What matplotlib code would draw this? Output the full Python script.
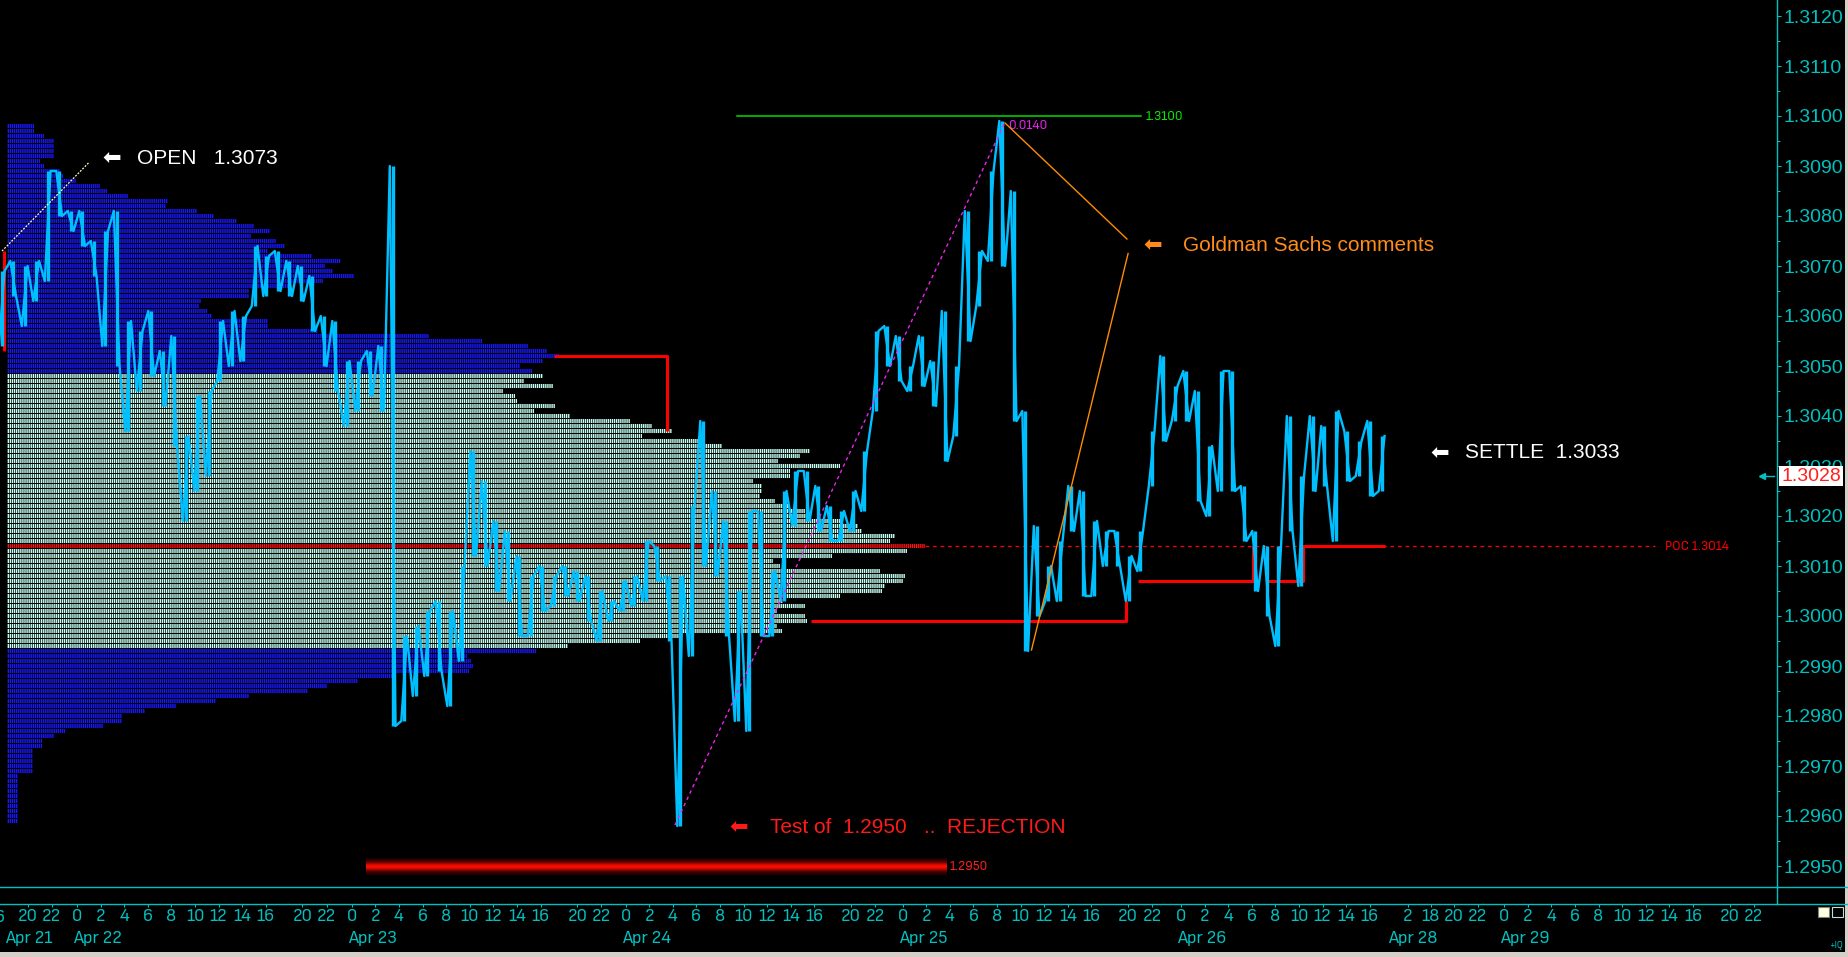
import numpy as np
import matplotlib
matplotlib.use("Agg")
import matplotlib.pyplot as plt
import matplotlib.transforms as mtransforms
from matplotlib import font_manager
from matplotlib.lines import Line2D
from matplotlib.patches import Rectangle
from matplotlib.ticker import FormatStrFormatter, MultipleLocator

W, H = 1848, 957

# fonts: Arial-like for labels, a narrow face for the time axis if one exists
names = {f.name for f in font_manager.fontManager.ttflist}
SANS = 'Liberation Sans' if 'Liberation Sans' in names else 'DejaVu Sans'
narrow_file = None
for f in font_manager.fontManager.ttflist:
    cond = ('Narrow' in f.name or 'Condensed' in f.name
            or f.stretch in ('condensed', 'semi-condensed', 'extra-condensed'))
    if cond and f.style == 'normal' and f.weight in (400, 'normal', 'regular', 'book'):
        if narrow_file is None or 'Sans' in f.name:
            narrow_file = f.fname
if narrow_file:
    def narrow(size):
        return font_manager.FontProperties(fname=narrow_file, size=size)
else:
    def narrow(size):
        return font_manager.FontProperties(family=SANS, size=size - 0.5)

CYAN = '#00c0c0'
PRICE = '#00bfff'

# ---- price data: hourly high / low, hours counted from Apr 22 00:00 ----
hours = np.arange(-7, 114)
highs = [1.3069, 1.3071, 1.3070, 1.3071, 1.3089, 1.3089, 1.3081, 1.3081, 1.3075, 1.3077,
         1.3081, 1.3059, 1.3057, 1.3061, 1.3053, 1.3056, 1.3036, 1.3044, 1.3045, 1.3059,
         1.3061, 1.3060, 1.3074, 1.3072, 1.3073, 1.3071, 1.3070, 1.3068, 1.3060, 1.3059,
         1.3051, 1.3051, 1.3053, 1.3054, 1.3090, 1.2996, 1.2998, 1.3001, 1.3003, 1.3001,
         1.3010, 1.3033, 1.3027, 1.3019, 1.3017, 1.3012, 1.3008, 1.3010, 1.3008, 1.3010,
         1.3009, 1.3008, 1.3005, 1.3003, 1.3007, 1.3008, 1.3015, 1.3014, 1.3008, 1.3008,
         1.3022, 1.3039, 1.3025, 1.3019, 1.3005, 1.3021, 1.3021, 1.3009, 1.3025, 1.3029,
         1.3029, 1.3026, 1.3022, 1.3021, 1.3025, 1.3033, 1.3057, 1.3058, 1.3056, 1.3050,
         1.3056, 1.3051, 1.3061, 1.3050, 1.3081, 1.3073, 1.3089, 1.3099, 1.3085, 1.3041,
         1.3018, 1.3010, 1.3015, 1.3026, 1.3025, 1.3019, 1.3017, 1.3017, 1.3012, 1.3017,
         1.3037, 1.3052, 1.3046, 1.3049, 1.3045, 1.3034, 1.3049, 1.3049, 1.3026, 1.3017,
         1.3014, 1.3014, 1.3040, 1.3028, 1.3040, 1.3038, 1.3041, 1.3037, 1.3035, 1.3039,
         1.3036]
lows = [1.3054, 1.3064, 1.3058, 1.3063, 1.3067, 1.3080, 1.3077, 1.3074, 1.3068, 1.3054,
        1.3050, 1.3037, 1.3045, 1.3048, 1.3042, 1.3034, 1.3019, 1.3025, 1.3028, 1.3047,
        1.3050, 1.3051, 1.3062, 1.3064, 1.3065, 1.3064, 1.3063, 1.3057, 1.3050, 1.3045,
        1.3038, 1.3041, 1.3044, 1.3041, 1.2978, 1.2979, 1.2984, 1.2988, 1.2989, 1.2982,
        1.2991, 1.3012, 1.3010, 1.3005, 1.3003, 1.2996, 1.2996, 1.3001, 1.3002, 1.3004,
        1.3003, 1.2999, 1.2995, 1.2999, 1.3001, 1.3002, 1.3003, 1.3007, 1.2995, 1.2958,
        1.2992, 1.3010, 1.3008, 1.2996, 1.2979, 1.2977, 1.2996, 1.2996, 1.3003, 1.3018,
        1.3019, 1.3017, 1.3015, 1.3015, 1.3017, 1.3021, 1.3041, 1.3050, 1.3047, 1.3045,
        1.3046, 1.3042, 1.3031, 1.3036, 1.3055, 1.3062, 1.3071, 1.3070, 1.3039, 1.2993,
        1.3000, 1.3003, 1.3003, 1.3017, 1.3004, 1.3004, 1.3010, 1.3010, 1.3003, 1.3009,
        1.3026, 1.3035, 1.3039, 1.3039, 1.3023, 1.3020, 1.3025, 1.3025, 1.3015, 1.3005,
        1.3000, 1.2994, 1.3017, 1.3006, 1.3025, 1.3026, 1.3015, 1.3027, 1.3028, 1.3024,
        1.3025]

# ---- volume profile, 1-pip bins from the top price down ----
profile_top = 1.3098
profile_volume = [27, 27, 37, 47, 47, 47, 47, 33, 37, 53, 56, 69, 93, 100, 121, 161, 159, 190,
                  207, 230, 247, 263, 244, 269, 278, 261, 305, 334, 318, 326, 347, 316, 284,
                  242, 242, 194, 192, 200, 205, 261, 261, 311, 422, 475, 521, 540, 552, 536,
                  513, 525,
                  536, 517, 546, 496, 508, 510, 548, 527, 563, 623, 645, 665, 635, 693, 715,
                  803, 793, 771, 833, 783, 783, 746, 755, 755, 753, 768, 783, 798, 804, 833,
                  851, 855, 888, 883, 918, 900, 825, 766, 773, 873, 898, 896, 878, 875, 833,
                  776, 798, 770, 798, 800, 770, 775, 673, 633, 561,
                  529, 460, 464, 466, 462, 389, 351, 320, 301, 242, 209, 169, 138, 115, 115,
                  96, 58, 47, 35, 35, 26, 26, 26, 26, 26, 11, 11, 11, 11, 11, 11, 11, 11,
                  11, 11]
value_area = (1.2994, 1.3048)
poc_price = 1.3014

# ---- levels and annotations ----
open_price = 1.3073
settle_price = 1.3033
last_price = 1.3028
test_price = 1.2950
target_price = 1.3100
swing_low = (52.0, 1.29582)
swing_high = (80.7, 1.30988)
gs_lines = [[(80.7, 1.30986), (91.3, 1.30754)], [(91.4, 1.30725), (83.0, 1.29932)]]
poc_steps = [[(-6.35, 1.3073), (-6.35, 1.3053)],
             [(41.5, 1.3052), (51.3, 1.3052), (51.3, 1.3037)],
             [(63.8, 1.2999), (91.2, 1.2999), (91.2, 1.3003)],
             [(92.3, 1.3007), (102.3, 1.3007), (102.3, 1.3014)],
             [(103.6, 1.3007), (106.6, 1.3007), (106.6, 1.3014), (113.7, 1.3014)]]

# ---- time axis labels ----
day_starts = [('Apr 22', 0.0), ('Apr 23', 23.9), ('Apr 24', 47.7), ('Apr 25', 71.8),
              ('Apr 26', 96.0), ('Apr 29', 124.1)]
hour_marks = [0, 2, 4, 6, 8, 10, 12, 14, 16, 20, 22]


def hour_pos(day0, k):
    if k <= 16:
        return day0 + 1.026 * k
    return day0 + {20: 19.6, 22: 21.7}[k]


tick_pos, tick_lbl = [], []
for k in (20, 22):
    tick_pos.append(hour_pos(-23.9, k)); tick_lbl.append(str(k))
for name, d0 in day_starts:
    for k in hour_marks:
        if name == 'Apr 26' and k > 16:
            continue
        tick_pos.append(hour_pos(d0, k)); tick_lbl.append(str(k))
tick_pos += [115.7, 117.7, 119.7, 121.8]
tick_lbl += ['2', '18', '20', '22']

# axis extents (x in hours, y in price)
t0, t1 = -77 / 11.5, 1700 / 11.5
p_top = 1.3 + 616 / 50000
p_bot = 1.3 - 271 / 50000

plt.rcParams['hatch.linewidth'] = 0.5

fig = plt.figure(figsize=(W / 100, H / 100), dpi=100, facecolor='black')
rect = [0, 1 - 887 / H, 1777 / W, 887 / H]

# profile underneath
axp = fig.add_axes(rect, zorder=0)
axp.set_facecolor('black')
prices = profile_top - np.arange(len(profile_volume)) * 0.0001
colors = []
for pr in prices:
    if abs(pr - poc_price) < 0.00005:
        colors.append('#ff1010')
    elif value_area[0] - 0.00005 <= pr <= value_area[1] + 0.00005:
        colors.append('#c4fff0')
    else:
        colors.append('#1818ff')
axp.barh(prices, profile_volume, height=0.000078, left=0, color=colors,
         edgecolor='black', linewidth=0, hatch='||||||||')
axp.set_xlim(-7, 1770)
axp.set_ylim(p_bot, p_top)
axp.axis('off')

# price axes on top
ax = fig.add_axes(rect, zorder=1)
ax.set_facecolor('none')

mids = (np.array(highs) + np.array(lows)) / 2
px, py = [], []
for i, h in enumerate(hours):
    nxt = mids[i + 1] if i + 1 < len(hours) else mids[i]
    if nxt >= mids[i]:
        pair = (lows[i], highs[i])
    else:
        pair = (highs[i], lows[i])
    px += [h + 0.2, h + 0.7]
    py += list(pair)
ax.plot(px, py, color=PRICE, lw=1.7, zorder=6)
# hourly range bars give the dense tick look
ax.vlines(hours + 0.45, lows, highs, color=PRICE, lw=2.4, zorder=6)

# red POC step lines
for seg in poc_steps:
    xs, ys = zip(*seg)
    ax.plot(xs, ys, color='#ff0000', lw=2.2, zorder=5, solid_capstyle='butt')
ax.plot([73.7, 137.2], [poc_price] * 2, color='#ff0000', lw=0.9, ls=(0, (3, 3)), zorder=4)
ax.text(138.1, poc_price, 'POC 1.3014', color='#ff0000', fontproperties=narrow(10),
        va='center', ha='left')

# open marker line
ax.plot([-6.52, 1.04], [open_price, 1.30907], color='#ffffd0', lw=0.9,
        ls=(0, (1.5, 1.2)), zorder=7)

# target 1.3100
ax.plot([57.4, 92.5], [target_price] * 2, color='#00dd00', lw=1.1, zorder=4)
ax.text(92.9, target_price, '1.3100', color='#00ee00', fontproperties=narrow(10),
        va='center', ha='left')

# swing measure
ax.plot([swing_low[0], swing_high[0]], [swing_low[1], swing_high[1]], color='#ee22ee',
        lw=1.0, ls=(0, (2.5, 2.5)), zorder=7)
ax.text(81.0, 1.30982, '0.0140', color='#ee22ee', fontproperties=narrow(10),
        va='center', ha='left')

for seg in gs_lines:
    xs, ys = zip(*seg)
    ax.plot(xs, ys, color='#ff8c00', lw=1.0, zorder=7)

# glow bar at 1.2950
g = np.linspace(-1, 1, 25)
inten = np.exp(-(g / 0.5) ** 2)
img = np.zeros((25, 2, 3))
img[:, :, 0] = (0.12 + 0.88 * inten)[:, None]
img[:, :, 1] = (0.05 * inten)[:, None]
ax.imshow(img, extent=[25.1, 75.6, test_price - 0.00018, test_price + 0.00016],
          aspect='auto', interpolation='bilinear', zorder=3)
ax.text(75.9, test_price, '1.2950', color='#ff2020', fontproperties=narrow(10),
        va='center', ha='left')


# text annotations
def note(tx, ta, p, s, color):
    ax.text(ta, p, '\u2b05', color=color, fontsize=16, family='DejaVu Sans',
            ha='center', va='center', zorder=8)
    ax.text(tx, p, s, color=color, fontsize=15, family=SANS, ha='left', va='center',
            zorder=8)


note(5.2, 3.04, 1.30916, 'OPEN   1.3073', 'white')
note(96.2, 93.5, 1.30742, 'Goldman Sachs comments', '#ff8c1a')
note(120.7, 118.5, 1.30326, 'SETTLE  1.3033', 'white')
note(60.3, 57.5, 1.29578, 'Test of  1.2950   ..  REJECTION', '#ff1a1a')

ax.set_xlim(t0, t1)
ax.set_ylim(p_bot, p_top)
for s in ('left', 'top', 'bottom'):
    ax.spines[s].set_visible(False)
ax.spines['right'].set_color(CYAN)
ax.spines['right'].set_linewidth(1.0)
ax.set_xticks([])
ax.yaxis.tick_right()
ax.yaxis.set_major_locator(MultipleLocator(0.001))
ax.yaxis.set_minor_locator(MultipleLocator(0.0005))
ax.yaxis.set_major_formatter(FormatStrFormatter('%.4f'))
ax.tick_params(axis='y', which='major', colors=CYAN, length=3, width=0.75, pad=1.5,
               labelsize=14, labelfontfamily=SANS)
ax.tick_params(axis='y', which='minor', colors=CYAN, length=2, width=0.75)

# last price box
yt = mtransforms.blended_transform_factory(ax.transAxes, ax.transData)
ax.text(1.0025, last_price, '1.3028', transform=yt, color='#ff2020', fontsize=14,
        family=SANS, ha='left', va='center', zorder=20, clip_on=False,
        bbox=dict(boxstyle='square,pad=0.1', fc='white', ec='none'))
ax.plot([0.9915, 0.9985], [last_price] * 2, transform=yt, color=CYAN, lw=1,
        marker='<', markersize=4, markevery=[0], clip_on=False, zorder=20)

# time axis strip
axb = fig.add_axes([0, 1 - 904 / H, 1777 / W, 17 / H], zorder=1)
axb.set_facecolor('black')
axb.set_xlim(t0, t1)
axb.set_ylim(0, 1)
for s in axb.spines.values():
    s.set_visible(False)
axb.set_yticks([])
axb.set_xticks(tick_pos)
axb.set_xticklabels(tick_lbl, fontproperties=narrow(13.5))
axb.tick_params(axis='x', colors=CYAN, length=2.5, width=0.75, pad=1)

tr = mtransforms.blended_transform_factory(axb.transData, fig.transFigure)
fig.text(0.0, 1 - 917 / H, '6', color=CYAN, fontproperties=narrow(13.5), ha='center',
         va='center')
fig.text(-6.26, 1 - 938 / H, 'Apr 21', transform=tr, color=CYAN,
         fontproperties=narrow(13.5), ha='left', va='center')
for name, d0 in day_starts:
    fig.text(d0 - 0.35, 1 - 938 / H, name, transform=tr, color=CYAN,
             fontproperties=narrow(13.5), ha='left', va='center')
fig.text(113.96, 1 - 938 / H, 'Apr 28', transform=tr, color=CYAN,
         fontproperties=narrow(13.5), ha='left', va='center')

# frame lines
for yy in (887, 904):
    fig.add_artist(Line2D([0, 1], [1 - yy / H] * 2, transform=fig.transFigure,
                          color=CYAN, lw=1))
fig.add_artist(Line2D([1777 / W] * 2, [1 - 904 / H, 1 - 887 / H],
                      transform=fig.transFigure, color=CYAN, lw=1))

# window chrome bits
fig.add_artist(Rectangle((1818 / W, 1 - 917 / H), 11 / W, 10 / H, transform=fig.transFigure,
                         fc='#ffffe0', ec='#808080', lw=0.8))
fig.add_artist(Rectangle((1832 / W, 1 - 917 / H), 11 / W, 10 / H, transform=fig.transFigure,
                         fc='none', ec='#c0e0e0', lw=0.8))
fig.text(1843 / W, 1 - 945 / H, '+IQ', color=CYAN, fontproperties=narrow(7),
         ha='right', va='center')
fig.add_artist(Rectangle((0, 0), 1, 5 / H, transform=fig.transFigure, fc='#d4d0c8',
                         ec='none'))
fig.add_artist(Rectangle((1 - 3 / W, 0), 3 / W, 1, transform=fig.transFigure,
                         fc='#d4d0c8', ec='none'))

fig.savefig('out.png', dpi=100, facecolor='black')
